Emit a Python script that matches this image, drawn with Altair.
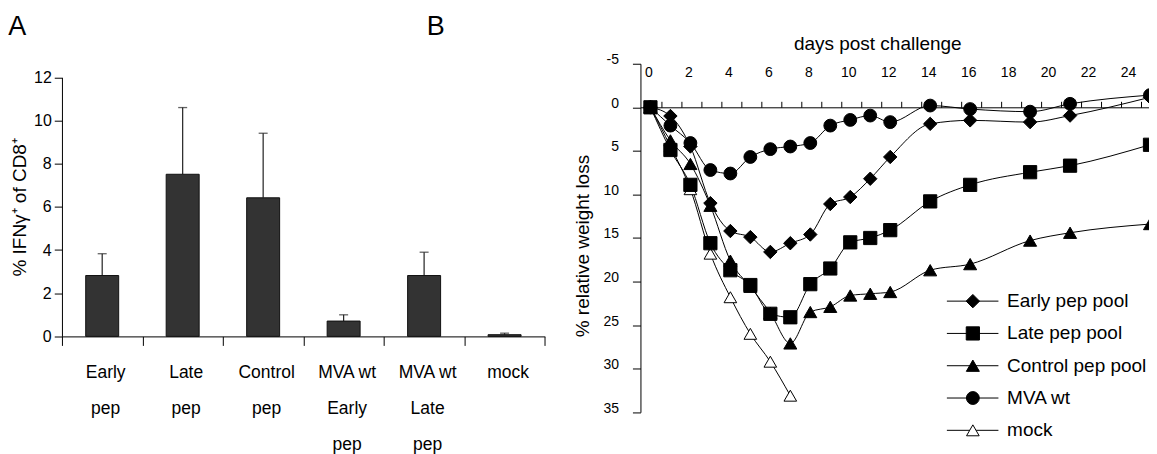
import altair as alt
import pandas as pd

# ---------------- Panel A data ----------------
groups = ["Early|pep", "Late|pep", "Control|pep", "MVA wt|Early|pep", "MVA wt|Late|pep", "mock"]
ifn_mean = [2.82, 7.51, 6.42, 0.71, 2.82, 0.08]
ifn_upper = [3.83, 10.6, 9.41, 1.0, 3.9, 0.15]
bar_ticks = [0, 2, 4, 6, 8, 10, 12]

# ---------------- Panel B data ----------------
days = [0, 1, 2, 3, 4, 5, 6, 7, 8, 9, 10, 11, 12, 14, 16, 19, 21, 25]
early = [0, 1.0, 4.5, 11.0, 14.2, 14.9, 16.6, 15.6, 14.6, 11.1, 10.3, 8.2, 5.7, 1.9, 1.5, 1.7, 0.95, -1.15]
late = [0, 4.9, 8.9, 15.6, 18.7, 20.4, 23.7, 24.1, 20.3, 18.5, 15.5, 15.0, 14.1, 10.8, 8.9, 7.45, 6.7, 4.3]
control = [0, 3.8, 6.5, 11.3, 17.6, 20.6, 23.6, 27.1, 23.5, 22.9, 21.6, 21.4, 21.2, 18.7, 18.0, 15.3, 14.4, 13.4]
mva = [0, 2.1, 4.1, 7.2, 7.6, 5.7, 4.8, 4.5, 4.1, 2.1, 1.45, 0.95, 1.7, -0.2, 0.2, 0.5, -0.4, -1.4]
mock_days = [0, 1, 2, 3, 4, 5, 6, 7]
mock = [0, 4.5, 9.4, 16.8, 21.8, 26.0, 29.2, 33.1]

series_names = ["Early pep pool", "Late pep pool", "Control pep pool", "MVA wt", "mock"]
shapes = ["diamond", "square", "triangle-up", "circle", "triangle-up"]
fills = ["black", "black", "black", "black", "white"]
sizes = [180, 160, 210, 150, 190]
day_ticks = list(range(0, 25))
weight_ticks = [-5, 0, 5, 10, 15, 20, 25, 30, 35]

FONT = "Liberation Sans, Arial, Helvetica, sans-serif"

# ---------------- Panel A ----------------
dfa = pd.DataFrame({"group": groups, "mean": ifn_mean, "upper": ifn_upper})

xA = alt.X(
    "group:N", sort=groups,
    scale=alt.Scale(paddingInner=0, paddingOuter=0),
    axis=alt.Axis(
        title=None, labelAngle=0, labelExpr="split(datum.label, '|')",
        tickBand="extent", tickSize=9, labelPadding=18, labelLineHeight=36,
        labelFontSize=17.5, labelOffset=3, labelBaseline="top",
    ),
)


def yA(field):
    return alt.Y(
        field,
        scale=alt.Scale(domain=[0, 12], range=[272.9, 13.6], nice=False, zero=False),
        axis=alt.Axis(
            values=bar_ticks, title="% IFNγ⁺ of CD8⁺", tickSize=7.7, labelPadding=3,
            labelFontSize=16, titleFontSize=19, titlePadding=4, labelFlush=False,
        ),
    )


bars = alt.Chart(dfa).mark_bar(width=33, color="#333333", stroke="#111111", strokeWidth=1).encode(
    x=xA, y=yA("mean:Q")
)
err = alt.Chart(dfa).mark_rule(color="#222222", strokeWidth=1.2).encode(
    x=xA, y=yA("mean:Q"), y2="upper:Q"
)
cap = alt.Chart(dfa).mark_tick(color="#222222", thickness=1.3, size=9).encode(
    x=xA, y=yA("upper:Q")
)
letA = alt.Chart(pd.DataFrame({"t": ["A"]})).mark_text(
    align="left", baseline="alphabetic", fontSize=27, font=FONT, color="black",
).encode(x=alt.value(-53.7), y=alt.value(-29.2), text="t:N")
letB = alt.Chart(pd.DataFrame({"t": ["B"]})).mark_text(
    align="left", baseline="alphabetic", fontSize=27, font=FONT, color="black",
).encode(x=alt.value(365), y=alt.value(-29.2), text="t:N")

chartA = alt.layer(err, bars, cap, letA, letB).properties(width=483.3, height=272.9)

# ---------------- Panel B ----------------
recs = []
for name, dd, vv in [
    ("mock", mock_days, mock),
    ("Control pep pool", days, control),
    ("Late pep pool", days, late),
    ("Early pep pool", days, early),
    ("MVA wt", days, mva),
]:
    for d, v in zip(dd, vv):
        recs.append({"series": name, "day": d, "loss": v})
dfb = pd.DataFrame(recs)

B_W = 509
B_H = 348.8
xB = alt.X(
    "day:Q",
    scale=alt.Scale(domain=[-0.5, 24.95], nice=False, zero=False),
    axis=alt.Axis(
        orient="top", offset=-43.6, values=day_ticks, tickSize=6, tickOffset=10.5,
        labelOffset=-12.5, labelExpr="datum.value % 2 == 0 ? datum.label : ''",
        labelFontSize=14, labelPadding=22, labelOverlap=False, labelFlush=False,
        title="days post challenge", titleFontSize=19, titleX=237, titleY=-63.7,
        titleBaseline="middle",
    ),
)
yB = alt.Y(
    "loss:Q",
    scale=alt.Scale(domain=[-5, 35], nice=False, zero=False, reverse=True),
    axis=alt.Axis(
        values=weight_ticks, tickSize=8, labelPadding=14, labelOffset=-4,
        labelFontSize=14, labelFlush=False, labelExpr="'' + datum.value",
        title="% relative weight loss", titleFontSize=19, titlePadding=10, titleY=182,
    ),
)
shape_enc = alt.Shape("series:N", scale=alt.Scale(domain=series_names, range=shapes), legend=None)
fill_enc = alt.Fill("series:N", scale=alt.Scale(domain=series_names, range=fills), legend=None)
size_enc = alt.Size("series:O", scale=alt.Scale(domain=series_names, range=sizes), legend=None)

lines = alt.Chart(dfb).mark_line(color="black", strokeWidth=1, interpolate="monotone", clip=True).encode(
    x=xB, y=yB, detail="series:N"
)
pts = alt.Chart(dfb).mark_point(filled=True, opacity=1, stroke="black", strokeWidth=1, clip=True).encode(
    x=xB, y=yB, shape=shape_enc, fill=fill_enc, size=size_enc
)
main = alt.layer(lines, pts)

dfl = pd.DataFrame({"series": series_names})
ly = alt.Y(
    "series:N",
    scale=alt.Scale(type="point", domain=series_names, range=[237.6, 366.9], padding=0),
    axis=None,
)
leg_rule = alt.Chart(dfl).mark_rule(color="black", strokeWidth=1).encode(
    x=alt.value(306.7), x2=alt.value(358.3), y=ly
)
leg_pts = alt.Chart(dfl).mark_point(filled=True, opacity=1, stroke="black", strokeWidth=1).encode(
    x=alt.value(332.7), y=ly, shape=shape_enc, fill=fill_enc, size=size_enc
)
leg_txt = alt.Chart(dfl).mark_text(align="left", baseline="middle", fontSize=19, font=FONT, color="black").encode(
    x=alt.value(367), y=ly, text="series:N"
)
legend = alt.layer(leg_rule, leg_pts, leg_txt)

chartB = alt.layer(main, legend).resolve_scale(y="independent").properties(width=B_W, height=B_H)

chart = (
    alt.hconcat(chartA, chartB, spacing=95, bounds="flush")
    .properties(padding={"left": 0, "top": 3.6, "right": 0, "bottom": 0})
    .configure(font=FONT)
    .configure_view(stroke=None)
    .configure_axis(
        grid=False, domainColor="black", tickColor="black", labelColor="black",
        titleColor="black", titleFontWeight="normal", domainWidth=1, tickWidth=1,
        labelFont=FONT, titleFont=FONT,
    )
)

chart.save("out.html", embed_options={"renderer": "svg", "actions": False})
